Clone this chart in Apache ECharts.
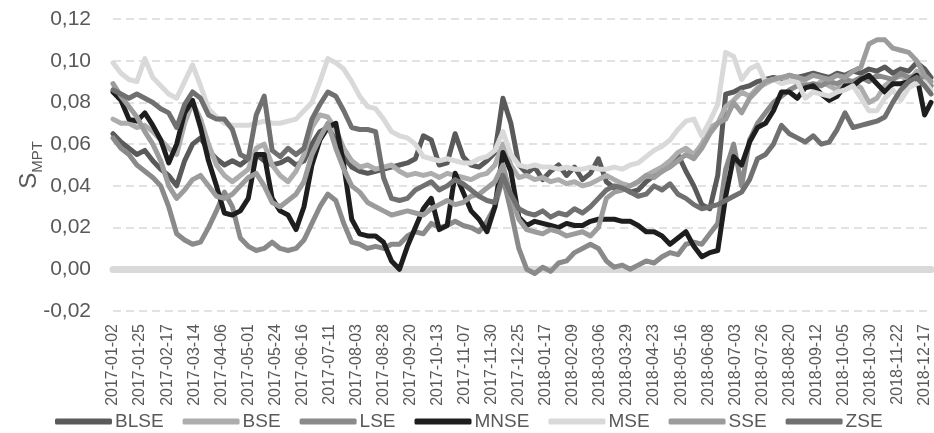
<!DOCTYPE html>
<html><head><meta charset="utf-8">
<script src="https://cdn.jsdelivr.net/npm/echarts@6/dist/echarts.min.js"></script>
<style>html,body{margin:0;padding:0;background:#fff}#c{width:934px;height:433px}</style>
</head><body><div id="c"></div>
<script>
// Trading-day axis: weekdays from 2017-01-02, 515 days (to 2018-12-21)
const firstDay = [2017, 0, 2];
const dayCount = 515;
const tickLabels = ['2017-01-02','2017-01-25','2017-02-17','2017-03-14','2017-04-06','2017-05-01','2017-05-24','2017-06-16','2017-07-11','2017-08-03','2017-08-28','2017-09-20','2017-10-13','2017-11-07','2017-11-30','2017-12-25','2018-01-17','2018-02-09','2018-03-06','2018-03-29','2018-04-23','2018-05-16','2018-06-08','2018-07-03','2018-07-26','2018-08-20','2018-09-12','2018-10-05','2018-10-30','2018-11-22','2018-12-17'];
const yTicks = [-0.02, 0, 0.02, 0.04, 0.06, 0.08, 0.10, 0.12];
// weekly readings (every 5th trading day, plus the last day)
const sampleStep = 5;
const seriesNames = ['BLSE','BSE','LSE','MNSE','MSE','SSE','ZSE'];
const seriesColors = ['#5a5a5a','#adadad','#8a8a8a','#1e1e1e','#d9d9d9','#9c9c9c','#707070'];

const BLSE = [0.065,0.061,0.058,0.055,0.057,0.052,0.048,0.045,0.040,0.052,0.060,0.063,0.057,0.053,0.050,0.052,0.050,0.053,0.055,0.052,
0.050,0.051,0.053,0.050,0.052,0.060,0.066,0.068,0.062,0.054,0.049,0.047,0.046,0.047,0.048,0.049,0.050,0.051,0.053,0.064,
0.062,0.050,0.051,0.065,0.054,0.050,0.049,0.052,0.056,0.082,0.070,0.050,0.046,0.049,0.043,0.047,0.050,0.045,0.049,0.043,
0.046,0.053,0.042,0.039,0.040,0.037,0.038,0.042,0.045,0.047,0.050,0.055,0.047,0.040,0.031,0.029,0.045,0.084,0.085,0.087,
0.088,0.090,0.091,0.092,0.091,0.093,0.092,0.093,0.094,0.093,0.092,0.094,0.093,0.095,0.094,0.096,0.095,0.097,0.094,0.096,
0.095,0.099,0.096,0.092];
const BSE = [0.072,0.070,0.070,0.068,0.069,0.066,0.062,0.058,0.055,0.070,0.080,0.072,0.060,0.050,0.045,0.042,0.045,0.048,0.058,0.060,
0.050,0.045,0.042,0.047,0.055,0.068,0.074,0.073,0.067,0.058,0.052,0.049,0.050,0.048,0.049,0.050,0.047,0.045,0.046,0.045,
0.046,0.044,0.046,0.045,0.044,0.043,0.045,0.046,0.050,0.060,0.050,0.044,0.045,0.043,0.044,0.042,0.043,0.041,0.042,0.040,
0.041,0.043,0.045,0.043,0.041,0.040,0.042,0.045,0.047,0.049,0.052,0.056,0.058,0.055,0.060,0.068,0.070,0.078,0.081,0.085,
0.083,0.087,0.089,0.091,0.092,0.090,0.091,0.089,0.087,0.090,0.088,0.086,0.091,0.089,0.087,0.080,0.082,0.088,0.091,0.093,
0.090,0.095,0.092,0.088];
const LSE = [0.063,0.058,0.055,0.050,0.047,0.044,0.040,0.030,0.017,0.014,0.012,0.013,0.020,0.028,0.037,0.030,0.015,0.011,0.009,0.010,
0.013,0.010,0.009,0.010,0.014,0.022,0.030,0.036,0.033,0.022,0.013,0.012,0.010,0.011,0.010,0.012,0.012,0.016,0.018,0.017,
0.022,0.020,0.021,0.023,0.021,0.020,0.018,0.023,0.030,0.044,0.028,0.010,0.000,-0.002,0.001,-0.001,0.003,0.004,0.008,0.010,
0.012,0.010,0.004,0.001,0.002,0.000,0.002,0.004,0.003,0.006,0.008,0.007,0.012,0.013,0.012,0.017,0.022,0.048,0.060,0.040,
0.062,0.070,0.075,0.080,0.083,0.086,0.088,0.088,0.089,0.088,0.090,0.089,0.091,0.090,0.092,0.090,0.093,0.092,0.091,0.094,
0.092,0.093,0.090,0.088];
const MNSE = [0.085,0.081,0.072,0.071,0.075,0.069,0.062,0.051,0.060,0.075,0.081,0.068,0.052,0.040,0.027,0.026,0.028,0.034,0.055,0.055,
0.034,0.028,0.026,0.019,0.030,0.050,0.062,0.068,0.070,0.050,0.024,0.017,0.016,0.016,0.013,0.004,0.000,0.011,0.020,0.029,
0.034,0.019,0.021,0.046,0.037,0.028,0.024,0.018,0.030,0.056,0.047,0.025,0.021,0.023,0.022,0.021,0.020,0.022,0.021,0.021,
0.023,0.024,0.024,0.024,0.023,0.023,0.021,0.018,0.018,0.016,0.012,0.015,0.018,0.011,0.006,0.008,0.009,0.035,0.054,0.050,
0.061,0.068,0.070,0.076,0.085,0.085,0.082,0.087,0.088,0.084,0.081,0.083,0.088,0.088,0.091,0.093,0.089,0.085,0.089,0.089,
0.090,0.093,0.074,0.080];
const MSE = [0.099,0.094,0.091,0.090,0.101,0.092,0.088,0.084,0.082,0.090,0.098,0.088,0.077,0.073,0.070,0.069,0.069,0.069,0.070,0.071,
0.070,0.070,0.071,0.072,0.076,0.080,0.090,0.101,0.099,0.096,0.090,0.083,0.078,0.077,0.072,0.066,0.064,0.063,0.060,0.054,
0.053,0.052,0.053,0.052,0.051,0.051,0.053,0.054,0.057,0.066,0.055,0.050,0.049,0.050,0.049,0.049,0.048,0.049,0.048,0.048,
0.049,0.048,0.048,0.049,0.048,0.050,0.051,0.054,0.057,0.059,0.062,0.067,0.071,0.072,0.064,0.071,0.079,0.104,0.102,0.091,
0.096,0.098,0.090,0.091,0.089,0.090,0.090,0.082,0.085,0.084,0.083,0.085,0.086,0.088,0.082,0.076,0.076,0.082,0.086,0.081,
0.087,0.089,0.090,0.086];
const SSE = [0.089,0.083,0.078,0.073,0.066,0.060,0.052,0.040,0.034,0.038,0.043,0.045,0.040,0.035,0.034,0.036,0.040,0.044,0.046,0.040,
0.032,0.030,0.033,0.036,0.042,0.055,0.063,0.070,0.058,0.048,0.040,0.037,0.032,0.030,0.028,0.026,0.027,0.028,0.027,0.026,
0.029,0.031,0.033,0.031,0.032,0.035,0.036,0.039,0.042,0.050,0.035,0.024,0.019,0.018,0.017,0.019,0.018,0.016,0.017,0.018,
0.016,0.020,0.034,0.037,0.038,0.040,0.042,0.045,0.044,0.047,0.049,0.052,0.055,0.053,0.058,0.065,0.070,0.072,0.080,0.075,
0.082,0.086,0.090,0.091,0.092,0.093,0.092,0.091,0.093,0.092,0.091,0.093,0.092,0.095,0.097,0.108,0.110,0.110,0.106,0.105,
0.104,0.100,0.093,0.090];
const ZSE = [0.086,0.084,0.082,0.084,0.082,0.080,0.077,0.075,0.068,0.079,0.085,0.082,0.074,0.072,0.072,0.067,0.055,0.053,0.074,0.083,
0.057,0.054,0.058,0.055,0.058,0.072,0.079,0.085,0.083,0.076,0.068,0.067,0.067,0.066,0.044,0.034,0.033,0.034,0.038,0.040,
0.042,0.038,0.040,0.043,0.041,0.038,0.035,0.033,0.032,0.045,0.036,0.029,0.027,0.026,0.028,0.025,0.027,0.026,0.029,0.027,
0.030,0.034,0.038,0.040,0.039,0.037,0.035,0.036,0.040,0.038,0.041,0.036,0.034,0.031,0.029,0.030,0.031,0.033,0.035,0.037,
0.043,0.053,0.055,0.060,0.069,0.065,0.063,0.061,0.064,0.060,0.061,0.067,0.075,0.068,0.069,0.070,0.071,0.073,0.080,0.086,
0.090,0.092,0.088,0.084];
const seriesValues = [BLSE, BSE, LSE, MNSE, MSE, SSE, ZSE];

// build categories
const categories = [];
{
  const d = new Date(Date.UTC(firstDay[0], firstDay[1], firstDay[2]));
  while (categories.length < dayCount) {
    const wd = d.getUTCDay();
    if (wd !== 0 && wd !== 6) categories.push(d.toISOString().slice(0, 10));
    d.setUTCDate(d.getUTCDate() + 1);
  }
}
function spread(vals) {
  const out = new Array(dayCount).fill(null);
  vals.forEach((v, k) => {
    const idx = k === vals.length - 1 ? dayCount - 1 : k * sampleStep;
    out[idx] = v;
  });
  return out;
}
const FONT = 'Liberation Sans';
const fmt = v => v.toFixed(2).replace('.', ',').replace('-0,00', '0,00');

const chart = echarts.init(document.getElementById('c'), null, {renderer: 'canvas'});
chart.setOption({
  animation: false,
  backgroundColor: '#fff',
  textStyle: {fontFamily: FONT},
  grid: {left: 113, right: 3, top: 19, bottom: 122},
  legend: {
    top: 407, left: 50, itemGap: 19, itemWidth: 57, itemHeight: 6,
    icon: 'roundRect',
    textStyle: {fontSize: 19, fontFamily: FONT, color: '#595959', padding: [0, 0, 0, -2]},
    data: seriesNames
  },
  xAxis: {
    type: 'category', data: categories, boundaryGap: false,
    axisLine: {onZero: true, lineStyle: {color: '#d9d9d9', width: 7}},
    axisTick: {show: false},
    axisLabel: {
      rotate: 90, fontSize: 16, fontFamily: FONT, color: '#595959', margin: 13,
      interval: (i, v) => tickLabels.includes(v)
    },
    splitLine: {show: false}
  },
  yAxis: {
    type: 'value', min: yTicks[0], max: yTicks[yTicks.length - 1], interval: 0.02,
    axisLine: {show: false}, axisTick: {show: false},
    axisLabel: {fontSize: 21, fontFamily: FONT, color: '#595959', margin: 22, formatter: fmt},
    splitLine: {lineStyle: {color: '#d9d9d9', width: 1.5, type: [8, 5]}},
    name: '{s|S}{m|MPT}', nameLocation: 'middle', nameGap: 72, nameRotate: 90,
    nameMoveOverlap: false,
    nameTextStyle: {
      color: '#595959', fontFamily: FONT,
      rich: {
        s: {fontSize: 24, color: '#595959', fontFamily: FONT, verticalAlign: 'bottom', lineHeight: 30},
        m: {fontSize: 15, color: '#595959', fontFamily: FONT, verticalAlign: 'bottom', lineHeight: 30, padding: [0, 0, -4, 0]}
      }
    }
  },
  series: seriesNames.map((n, i) => ({
    name: n, type: 'line', data: spread(seriesValues[i]), connectNulls: true,
    showSymbol: false, symbol: 'none',
    lineStyle: {color: seriesColors[i], width: 5, cap: 'round', join: 'round'},
    itemStyle: {color: seriesColors[i]},
    emphasis: {disabled: true}
  }))
});
</script></body></html>
